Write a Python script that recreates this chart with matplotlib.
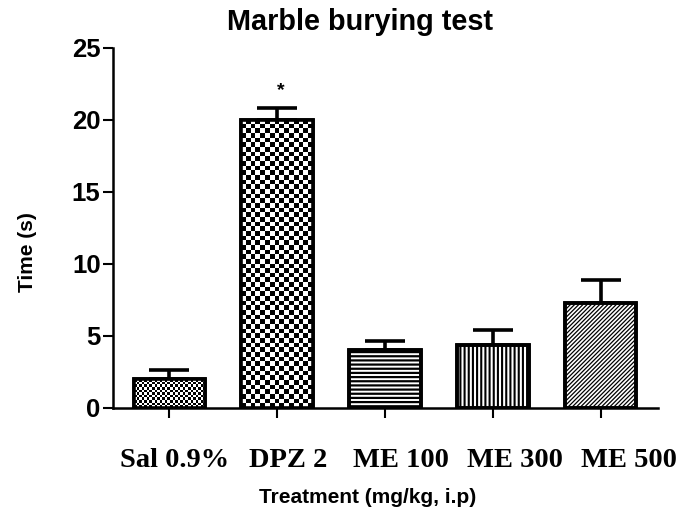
import numpy as np
import matplotlib
matplotlib.use('Agg')
import matplotlib.pyplot as plt
import matplotlib.transforms as mtransforms

plt.rcParams['hatch.linewidth'] = 1.6

treatments = ['Sal 0.9%', 'DPZ 2', 'ME 100', 'ME 300', 'ME 500']
mean_time = [2.0, 20.0, 4.0, 4.4, 7.3]
sem_time = [0.65, 0.8, 0.65, 1.0, 1.6]
significant = [False, True, False, False, False]
yticks = [0, 5, 10, 15, 20, 25]

# fill style per bar: 'checker_fine', 'checker', or a hatch string
fills = ['checker_fine', 'checker', '----', '||||', '////////']
hatch_lw = [None, None, 1.6, 1.5, 0.9]

fig = plt.figure(figsize=(6.99, 5.07), dpi=100)
ax = fig.add_axes([0.1617, 0.1953, 0.7797, 0.7101])

x = np.arange(len(treatments))
w = 0.66
bars = ax.bar(x, mean_time, width=w, facecolor='white', edgecolor='black',
              linewidth=2.6, zorder=2)

for b, f, hl in zip(bars, fills, hatch_lw):
    if f.startswith('checker'):
        # cell size in data units
        if f == 'checker_fine':
            cw, ch = w / 28.0, 0.18
        else:
            cw, ch = w / 15.0, 0.32
        nx = max(1, int(round(b.get_width() / cw)))
        ny = max(1, int(round(b.get_height() / ch)))
        board = (np.add.outer(np.arange(ny), np.arange(nx)) % 2).astype(float)
        im = ax.imshow(board, cmap='gray', vmin=0, vmax=1, aspect='auto',
                       interpolation='nearest', origin='lower',
                       extent=(b.get_x(), b.get_x() + b.get_width(), 0, b.get_height()),
                       zorder=2.5)
        im.set_clip_path(b)
    else:
        b.set_hatch(f)
        if hasattr(b, 'set_hatch_linewidth'):
            b.set_hatch_linewidth(hl)

# outlines on top
ax.bar(x, mean_time, width=w, fill=False, edgecolor='black', linewidth=2.6, zorder=3)

ax.errorbar(x, mean_time, yerr=[np.zeros(len(x)), sem_time], fmt='none',
            ecolor='black', elinewidth=2.6, capsize=14.5, capthick=2.6, zorder=1.5)

for xi, m, s, sig in zip(x, mean_time, sem_time, significant):
    if sig:
        ax.annotate('*', xy=(xi, m + s), xytext=(3, 7), textcoords='offset points',
                    ha='center', va='bottom', fontsize=14, fontweight='bold',
                    family='Liberation Sans')

ax.set_ylim(0, 25)
ax.set_xlim(-0.52, 4.53)
ax.set_yticks(yticks)
ax.set_yticklabels([str(v) for v in yticks], fontsize=18.5, fontweight='bold',
                   family='Liberation Sans')
ax.set_xticks(x)
ax.set_xticklabels(treatments, fontsize=20.5, fontweight='bold', family='Liberation Serif')

for side in ['top', 'right']:
    ax.spines[side].set_visible(False)
for side in ['left', 'bottom']:
    ax.spines[side].set_linewidth(1.8)
ax.tick_params(axis='y', direction='out', length=7, width=1.5, pad=2)
ax.tick_params(axis='x', direction='out', length=7.5, width=1.5, pad=21)

# the pasted labels drift slightly right of their ticks
for i, lab in enumerate(ax.get_xticklabels()):
    dx = (5 + 5.7 * i) / 100.0
    lab.set_transform(lab.get_transform() + mtransforms.ScaledTranslation(dx, 0, fig.dpi_scale_trans))

ax.set_ylabel('Time (s)', fontsize=15, fontweight='bold', family='Liberation Sans')
ax.yaxis.set_label_coords(-0.139, 0.433)
ax.set_xlabel('Treatment (mg/kg, i.p)', fontsize=15, fontweight='bold',
              family='Liberation Sans')
ax.xaxis.set_label_coords(0.468, -0.223)
ax.set_title('Marble burying test', fontsize=20.8, fontweight='bold',
             family='Liberation Sans', pad=13, x=0.453)

fig.savefig('out.png', dpi=100)
